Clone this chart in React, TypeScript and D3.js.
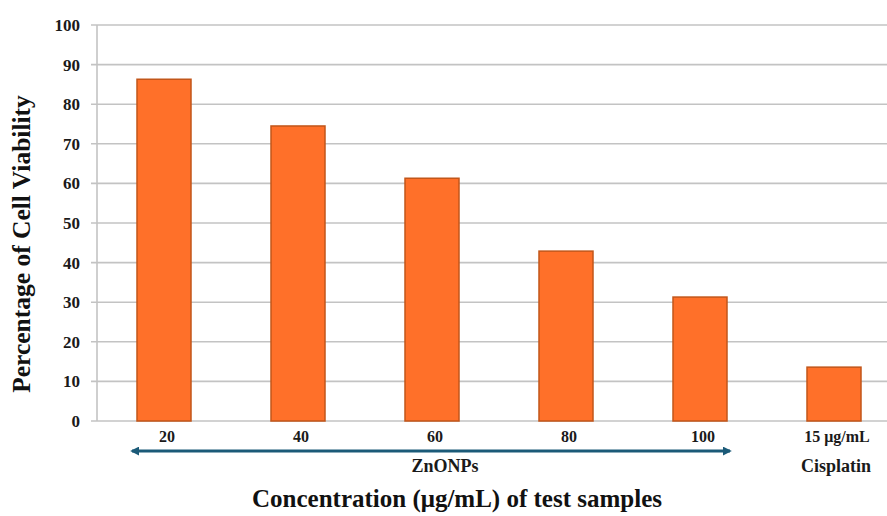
import React from "react";
import * as d3 from "d3";

const categories = ["20", "40", "60", "80", "100", "15 μg/mL"];
const viability = [86.3, 74.5, 61.3, 42.9, 31.3, 13.6];
const yTicks = [0, 10, 20, 30, 40, 50, 60, 70, 80, 90, 100];
const groupLabels = ["ZnONPs", "Cisplatin"];

const W = 887;
const H = 516;
const M = { left: 97, top: 25, bottom: 421, right: 901 };
const FONT = "'Liberation Serif', 'Times New Roman', serif";

export default function App() {
  const x = d3
    .scaleBand<string>()
    .domain(categories)
    .range([M.left, M.right])
    .paddingInner(0.597)
    .paddingOuter(0.2985);
  const y = d3.scaleLinear().domain([0, 100]).range([M.bottom, M.top]);

  const center = (c: string) => (x(c) as number) + x.bandwidth() / 2;
  const zn = categories.slice(0, 5);
  const arrowX0 = center(zn[0]) - 32;
  const arrowX1 = center(zn[zn.length - 1]) + 30;
  const arrowY = 451;

  return (
    <svg
      width={W}
      height={H}
      viewBox={`0 0 ${W} ${H}`}
      style={{ position: "absolute", left: 0, top: 0, background: "#fff" }}
    >
      <defs>
        <marker
          id="head"
          viewBox="0 0 10 10"
          refX="8"
          refY="5"
          markerWidth="3"
          markerHeight="3"
          orient="auto-start-reverse"
        >
          <path d="M0,0 L10,5 L0,10 Z" fill="#1b5a78" />
        </marker>
      </defs>

      {/* gridlines and tick stubs */}
      {yTicks.map((t) => (
        <g key={t}>
          <line
            x1={M.left - 6}
            x2={W}
            y1={y(t)}
            y2={y(t)}
            stroke="#c3c3c3"
            strokeWidth={1.6}
          />
          <text
            x={80}
            y={y(t)}
            dy="0.35em"
            textAnchor="end"
            fontFamily={FONT}
            fontWeight="bold"
            fontSize={17}
            fill="#1a1a1a"
          >
            {t}
          </text>
        </g>
      ))}
      <line
        x1={M.left}
        x2={M.left}
        y1={M.top}
        y2={M.bottom}
        stroke="#c3c3c3"
        strokeWidth={1.6}
      />

      {/* bars */}
      {categories.map((c, i) => (
        <rect
          key={c}
          x={x(c)}
          y={y(viability[i])}
          width={x.bandwidth()}
          height={y(0) - y(viability[i])}
          fill="#ff7029"
          stroke="#c2561a"
          strokeWidth={1.5}
        />
      ))}

      {/* category labels */}
      {categories.map((c) => (
        <text
          key={c}
          x={center(c) + 3}
          y={442}
          textAnchor="middle"
          fontFamily={FONT}
          fontWeight="bold"
          fontSize={16}
          fill="#1a1a1a"
        >
          {c}
        </text>
      ))}

      {/* ZnONPs group arrow */}
      <line
        x1={arrowX0}
        x2={arrowX1}
        y1={arrowY}
        y2={arrowY}
        stroke="#1b5a78"
        strokeWidth={3}
        markerStart="url(#head)"
        markerEnd="url(#head)"
      />
      <text
        x={(arrowX0 + arrowX1) / 2 + 14}
        y={472}
        textAnchor="middle"
        fontFamily={FONT}
        fontWeight="bold"
        fontSize={18}
        fill="#1a1a1a"
      >
        {groupLabels[0]}
      </text>
      <text
        x={center(categories[5]) + 2}
        y={472}
        textAnchor="middle"
        fontFamily={FONT}
        fontWeight="bold"
        fontSize={18}
        fill="#1a1a1a"
      >
        {groupLabels[1]}
      </text>

      {/* axis titles */}
      <text
        x={457}
        y={507}
        textAnchor="middle"
        fontFamily={FONT}
        fontWeight="bold"
        fontSize={25}
        fill="#111"
      >
        Concentration (μg/mL) of test samples
      </text>
      <text
        transform={`translate(30, 244) rotate(-90)`}
        textAnchor="middle"
        fontFamily={FONT}
        fontWeight="bold"
        fontSize={25.5}
        fill="#111"
      >
        Percentage of Cell Viability
      </text>
    </svg>
  );
}
